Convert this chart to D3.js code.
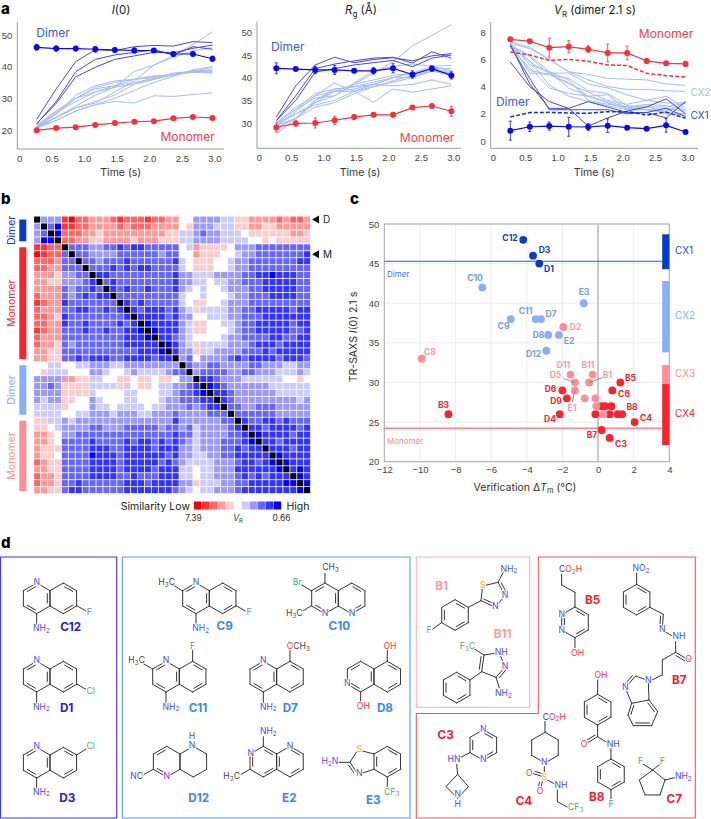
<!DOCTYPE html>
<html>
<head>
<meta charset="utf-8">
<script src="https://cdn.jsdelivr.net/npm/d3@7"></script>
<style>
  body { margin: 0; background: #fff; }
  svg { display: block; font-family: Inter, "Open Sans", sans-serif; }
  .tick text { fill: #444; font-size: 9.5px; }
  .axline { stroke: #9a9a9a; stroke-width: 1; }
</style>
</head>
<body>
<svg id="fig" width="711" height="819"></svg>
<script>
// ---- data, panel a
const times = [0.27, 0.57, 0.87, 1.17, 1.47, 1.77, 2.07, 2.37, 2.67, 2.97];

const i0Dimer = [46.1, 45.7, 45.7, 45.5, 45.3, 45.1, 45.1, 44.0, 44.0, 42.5];
const i0DimerErr = [0.9, 0.8, 0.7, 0.9, 0.6, 0.8, 0.5, 0.7, 0.5, 0.8];
const i0Monomer = [19.9, 20.6, 20.9, 21.6, 22.2, 22.6, 22.8, 23.7, 24.1, 23.8];
const i0MonomerErr = [0.3, 0.3, 0.3, 0.3, 0.3, 0.3, 0.3, 0.4, 0.4, 0.4];
const i0Cx1 = [
  [23.4, 33, 41.6, 45.3, 45.1, 46.3, 46.7, 46.5, 47.9, 47.6],
  [21.9, 29, 38.4, 42.3, 43.7, 44.5, 45.3, 43.7, 46.3, 45.5],
  [22.1, 28.4, 36.8, 39.8, 42.3, 43.4, 44.5, 44.4, 45.8, 46.8]
];
const i0Cx2 = [
  [21.5, 25, 30, 33.5, 35, 36, 37, 37.3, 38.8, 38],
  [21, 24, 27, 28.5, 32, 35.5, 40.5, 43.5, 47, 51],
  [20.5, 23, 26, 28, 29, 28.5, 30.8, 30.6, 31.2, 31.7],
  [21, 25, 31, 34, 35.5, 36, 37, 37.5, 38.5, 39.8],
  [21.5, 26, 30, 33, 34, 36, 36.5, 37.5, 38.5, 38.5],
  [20.5, 24, 27, 29, 31, 34.5, 36, 37.5, 38.2, 38],
  [21, 23, 26, 28, 30, 32.5, 35, 37, 39, 40],
  [21, 24, 27.5, 31, 33.5, 38.5, 40.5, 43, 45, 46],
  [21.5, 25.5, 29, 32, 34, 35, 36.3, 38, 38.5, 39],
  [21, 26, 30, 32, 33.5, 34.5, 36, 37.5, 38.5, 39]
];

const rgDimer = [42.06, 41.9, 41.7, 41.7, 41.5, 41.5, 42.06, 40.7, 42, 40.5];
const rgDimerErr = [1.2, 0.3, 0.8, 1.0, 0.4, 0.7, 1.0, 0.8, 0.6, 0.8];
const rgMonomer = [29, 29.9, 30, 30.6, 31.3, 31.8, 31.8, 33.4, 33.75, 32.6];
const rgMonomerErr = [1.0, 0.6, 1.1, 0.9, 0.5, 0.4, 0.5, 0.4, 0.4, 1.1];
const rgCx1 = [
  [31.3, 38.2, 42.8, 44.5, 43.3, 44, 44.4, 43.7, 44.8, 45.3],
  [30.5, 36, 42, 43, 43.7, 44.3, 44.5, 43.2, 45.7, 44.3],
  [30.5, 35, 41.2, 42, 42.8, 43.3, 43.8, 42.4, 44.3, 45]
];
const rgCx2 = [
  [27.5, 31, 35, 37, 38.5, 41, 43.5, 47, 49.3, 51.7],
  [29.5, 32.5, 36, 38.8, 37, 34.6, 37.5, 36.8, 37.5, 38.2],
  [30, 33, 36.5, 37.5, 38, 38.5, 38.2, 38.5, 39.5, 38.5],
  [29, 31, 35, 37.5, 38, 39, 40, 41, 42.5, 41.5],
  [30, 33, 35.5, 36, 38.5, 39.5, 40.5, 41, 42, 42],
  [29.5, 32, 34, 35, 37, 38.5, 40, 41, 42, 41],
  [29.5, 31, 34.5, 36, 38.8, 41.5, 42.5, 43, 42.5, 42.7],
  [30, 32, 34.5, 37, 37.5, 38.5, 40, 40, 41.5, 40.5],
  [30, 33.5, 36, 37, 37, 38, 39, 40, 41.5, 41],
  [29, 31, 33.5, 34.5, 36.5, 38, 39.3, 40.5, 41.5, 41.5]
];

const vrDimer = [0.76, 1.05, 1.1, 1.05, 1.03, 1.13, 0.98, 0.91, 1.15, 0.66];
const vrDimerErr = [0.7, 0.35, 0.3, 0.7, 0.25, 0.5, 0.1, 0.1, 0.5, 0.05];
const vrMonomer = [7.48, 7.34, 6.87, 6.94, 6.75, 6.48, 6.48, 5.89, 5.72, 5.67];
const vrMonomerErr = [0.1, 0.1, 0.7, 0.45, 0.25, 0.65, 0.5, 0.15, 0.1, 0.2];
const vrDashRed = [6.55, 6.33, 5.94, 6.01, 5.87, 5.6, 5.55, 4.98, 4.81, 4.71];
const vrDashBlue = [1.77, 2.09, 2.11, 2.06, 2.04, 2.16, 2.16, 1.91, 2.13, 1.67];
const vrCx1 = [
  [5.8, 4.0, 2.9, 2.4, 2.9, 2.5, 2.1, 2.1, 1.7, 2.9],
  [7.1, 4.2, 2.4, 2.4, 1.1, 1.7, 2.2, 2.5, 3.1, 2.0],
  [7.0, 4.6, 2.3, 2.3, 2.3, 2.3, 2.0, 2.1, 2.4, 1.8]
];
const vrCx2 = [
  [7.2, 6.8, 6.0, 5.1, 4.9, 4.6, 4.55, 4.5, 4.2, 4.1],
  [7.3, 6.9, 6.0, 5.1, 4.5, 4.0, 3.8, 3.8, 3.7, 3.65],
  [7.0, 5.8, 5.0, 5.0, 4.2, 3.9, 3.4, 3.0, 2.8, 2.8],
  [7.1, 6.2, 4.9, 4.6, 3.7, 3.5, 2.6, 2.5, 2.5, 2.8],
  [7.0, 5.2, 4.9, 4.2, 3.6, 3.0, 2.7, 3.0, 3.3, 2.4],
  [7.2, 5.6, 5.1, 3.9, 3.3, 2.9, 2.5, 2.3, 2.4, 2.2],
  [6.8, 5.4, 3.9, 3.5, 3.3, 2.8, 2.4, 2.3, 2.2, 2.8],
  [7.1, 5.9, 4.1, 3.3, 2.9, 2.6, 2.3, 2.3, 2.1, 2.0],
  [7.2, 5.0, 4.9, 4.3, 3.3, 3.4, 2.3, 2.6, 2.0, 1.9],
  [7.0, 6.3, 5.1, 4.5, 3.0, 2.7, 2.5, 2.7, 2.6, 2.3]
];

// ---- data, panel b: upper triangle, one class per cell, 0 = low similarity, a = high
const heatRows = [
  "777" + "10223332122212233" + "55777766" + "44333323223",
  "8a" + "11223333232223333" + "54777666" + "44334433333",
  "a" + "22233433333333344" + "66787766" + "65444444334",
  "22334433334333444" + "66777766" + "66554544444",
  "888778898998888" + "8" + "56344445" + "77788888888",
  "88777788888878" + "8" + "55344455" + "67788888889",
  "8878889888888" + "9" + "65444556" + "77888888899",
  "888989899888" + "8" + "65444556" + "77888888888",
  "99888888888" + "9" + "77666777" + "78899a99988",
  "8988888888" + "9" + "77665667" + "78889999988",
  "989889888" + "9" + "76565567" + "77889999988",
  "88888888" + "8" + "65565556" + "77888999988",
  "9898888" + "8" + "65445567" + "77888888888",
  "989998" + "9" + "76466667" + "78899999899",
  "99998" + "9" + "77556667" + "78889999999",
  "a999" + "9" + "76445566" + "78899999899",
  "a99" + "9" + "76445556" + "78899999889",
  "99" + "8" + "76555567" + "78888998899",
  "a" + "9" + "76466667" + "77899989999",
  "9" + "77466777" + "78889899999",
  "78577778" + "98999989998",
  "8" + "778877" + "77887776677",
  "788887" + "78877766676",
  "99877" + "76666665545",
  "a987" + "77777666666",
  "998" + "77777766666",
  "98" + "77777777767",
  "8" + "87788877777",
  "88888877777",
  "9889989888",
  "998999989",
  "a9999899",
  "9989999",
  "999899",
  "a9999",
  "a999",
  "9a9",
  "a9",
  "a"
];
const heatColors = ["#ff0000", "#ff3333", "#ff6666", "#ff9999", "#ffcccc", "#ffffff", "#ccccff", "#9999ff", "#6666ff", "#3333ff", "#0000ff"];
const heatGroups = [
  { name: "Dimer", from: 0, to: 4, color: "#0a3cc8" },
  { name: "Monomer", from: 4, to: 21, color: "#f8232c" },
  { name: "Dimer", from: 21, to: 29, color: "#8aaeff" },
  { name: "Monomer", from: 29, to: 40, color: "#ff8f95" }
];

// ---- data, panel c
const cx1Color = "#0a3cc8", cx2Color = "#8aaeff", cx3Color = "#ff8f95", cx4Color = "#f8232c";
const scatterCx1 = [["C12", -4.2, 48], ["D3", -3.65, 46], ["D1", -3.3, 45]];
const scatterCx2 = [["C10", -6.5, 42], ["E3", -0.8, 40], ["C11", -3.5, 38], ["D7", -3.2, 38], ["C9", -4.9, 38], ["D8", -2.8, 36], ["E2", -2.2, 36], ["D12", -2.9, 34]];
const scatterCx3 = [["C8", -9.9, 33], ["D2", -1.95, 37], ["D11", -1.55, 31], ["B11", -0.3, 31], ["D5", -1.3, 30], ["B1", -0.5, 30], ["E1", -1.3, 29], ["", -0.75, 28], ["", -0.15, 28], ["", -0.1, 27], ["", 0.3, 26]];
const scatterCx4 = [["B3", -8.4, 26], ["B5", 1.25, 30], ["C6", 0.8, 29], ["D6", -2, 29], ["D9", -1.75, 28], ["D4", -2.15, 26], ["", 0.2, 27], ["", 0.4, 27], ["", 0.75, 27], ["", -0.15, 26], ["", 0.65, 26], ["", 1.1, 26], ["B8", 1.35, 26], ["C4", 2.05, 25], ["B7", 0.2, 24], ["C3", 0.65, 23]];
const cxBars = [["CX1", 44.3, 48.7, cx1Color], ["CX2", 33.8, 42.8, cx2Color], ["CX3", 29.8, 32.2, cx3Color], ["CX4", 22.1, 29.8, cx4Color]];
const dimerLevel = 45.3, monomerLevel = 24.2;

const svg = d3.select("#fig");
const blue = "#0a0aee", red = "#f8303a";

function panelLetter(t, x, y) {
  svg.append("text").attr("x", x).attr("y", y).attr("font-size", 15).attr("font-weight", 800).text(t);
}

// one time-course panel of row a
function timePanel(p) {
  const x = d3.scaleLinear().domain([0, 3]).range(p.xr);
  const y = d3.scaleLinear().domain(p.yd).range(p.yr);
  const g = svg.append("g");
  const line = d3.line().x((d, i) => x(times[i])).y(d => y(d));

  g.append("g").attr("transform", `translate(0,${p.bottom})`)
    .call(d3.axisBottom(x).tickValues([0, 0.5, 1, 1.5, 2, 2.5, 3]).tickSize(0).tickPadding(6)
      .tickFormat(d => d === 0 ? "0" : d.toFixed(1)))
    .call(s => s.select(".domain").remove());
  g.append("g").attr("transform", `translate(${p.left},0)`)
    .call(d3.axisLeft(y).tickValues(p.yt).tickSize(0).tickPadding(5))
    .call(s => s.select(".domain").remove());
  g.append("line").attr("class", "axline").attr("x1", p.left).attr("x2", p.left).attr("y1", p.top).attr("y2", p.bottom);
  g.append("line").attr("class", "axline").attr("x1", p.left).attr("x2", p.right).attr("y1", p.bottom).attr("y2", p.bottom);

  g.selectAll(".cx2").data(p.cx2).enter().append("path").attr("d", line)
    .attr("fill", "none").attr("stroke", "#a3bdf7").attr("stroke-width", 1);
  g.selectAll(".cx1").data(p.cx1).enter().append("path").attr("d", line)
    .attr("fill", "none").attr("stroke", "#4646e6").attr("stroke-width", 1);

  (p.dashes || []).forEach(d => {
    g.append("path").attr("d", line(d[0])).attr("fill", "none").attr("stroke", d[1])
      .attr("stroke-width", 1.5).attr("stroke-dasharray", "4,2");
  });

  [[p.dimer, p.dimerErr, blue], [p.mono, p.monoErr, red]].forEach(s => {
    const [vals, errs, col] = s;
    g.append("path").attr("d", line(vals)).attr("fill", "none").attr("stroke", col).attr("stroke-width", 1.2);
    vals.forEach((v, i) => {
      const cx = x(times[i]), hi = y(v + errs[i]), lo = y(v - errs[i]);
      g.append("path").attr("d", `M${cx},${hi}V${lo}M${cx - 1.5},${hi}H${cx + 1.5}M${cx - 1.5},${lo}H${cx + 1.5}`)
        .attr("stroke", col).attr("stroke-width", 0.8).attr("fill", "none");
      g.append("circle").attr("cx", cx).attr("cy", y(v)).attr("r", 3).attr("fill", col);
    });
  });

  g.append("text").attr("x", (p.xr[0] + p.xr[1]) / 2 + 4).attr("y", 176).attr("text-anchor", "middle")
    .attr("font-size", 10.5).attr("fill", "#333").text("Time (s)");
  p.labels.forEach(l => {
    g.append("text").attr("x", l[1]).attr("y", l[2]).attr("text-anchor", l[4] || "middle")
      .attr("dominant-baseline", "middle").attr("font-size", l[5] || 12).attr("fill", l[3]).text(l[0]);
  });
}

function drawPanelA() {
  panelLetter("a", 1, 14);
  timePanel({
    left: 17.3, right: 224, top: 22, bottom: 149, xr: [19.1, 214.4], yd: [20, 50], yr: [130, 35], yt: [20, 30, 40, 50],
    cx1: i0Cx1, cx2: i0Cx2, dimer: i0Dimer, dimerErr: i0DimerErr, mono: i0Monomer, monoErr: i0MonomerErr,
    labels: [["Dimer", 53, 34, "#3a5ae8"], ["Monomer", 187.7, 137.5, "#f8404a"]]
  });
  timePanel({
    left: 257, right: 461, top: 21.7, bottom: 148.3, xr: [258.8, 453.3], yd: [30, 50], yr: [123, 32.3], yt: [30, 35, 40, 45, 50],
    cx1: rgCx1, cx2: rgCx2, dimer: rgDimer, dimerErr: rgDimerErr, mono: rgMonomer, monoErr: rgMonomerErr,
    labels: [["Dimer", 287.7, 47.7, "#3a5ae8"], ["Monomer", 427, 139, "#f8404a"]]
  });
  timePanel({
    left: 490.7, right: 698, top: 22, bottom: 148.3, xr: [492.8, 687.5], yd: [0, 8], yr: [141, 32.3], yt: [0, 2, 4, 6, 8],
    cx1: vrCx1, cx2: vrCx2, dimer: vrDimer, dimerErr: vrDimerErr, mono: vrMonomer, monoErr: vrMonomerErr,
    dashes: [[vrDashRed, red], [vrDashBlue, "#0f2fd8"]],
    labels: [["Monomer", 666, 35, "#f8404a"], ["Dimer", 512.7, 103, "#3a5ae8"],
      ["CX2", 690.5, 93, "#a3bdf7", "start", 10], ["CX1", 690.5, 116, "#2b4cdd", "start", 10]]
  });

  const title = (x, parts) => {
    const t = svg.append("text").attr("x", x).attr("y", 14).attr("text-anchor", "middle").attr("font-size", 11.5).attr("fill", "#222");
    parts.forEach(q => {
      const s = t.append("tspan").text(q[0]);
      if (q[1] === "i") s.attr("font-style", "italic");
      if (q[1] === "sub") s.attr("font-size", 8).attr("dy", 2.5);
      if (q[2]) s.attr("dy", q[2]);
    });
  };
  title(121, [["I", "i"], ["(0)"]]);
  title(361, [["R", "i"], ["g", "sub"], [" (Å)", "", -2.5]]);
  title(595, [["V", "i"], ["R", "sub"], [" (dimer 2.1 s)", "", -2.5]]);
}

function drawPanelB() {
  panelLetter("b", 1, 204);
  const n = heatRows.length + 1;
  const x = d3.scaleBand().domain(d3.range(n)).range([33.3, 311]).padding(0.12);
  const y = d3.scaleBand().domain(d3.range(n)).range([215.7, 494]).padding(0.12);
  const cells = [];
  heatRows.forEach((row, i) => {
    row.split("").forEach((c, k) => {
      const j = i + 1 + k, lev = parseInt(c, 11);
      cells.push({ i, j, lev }, { i: j, j: i, lev });
    });
  });
  d3.range(n).forEach(i => cells.push({ i, j: i, lev: -1 }));
  svg.append("g").selectAll("rect").data(cells).enter().append("rect")
    .attr("x", d => x(d.j)).attr("y", d => y(d.i))
    .attr("width", x.bandwidth()).attr("height", y.bandwidth())
    .attr("fill", d => d.lev < 0 ? "#000" : heatColors[d.lev]);

  const step = y.step();
  const bars = svg.append("g");
  heatGroups.forEach(d => {
    const y0 = y(d.from) + 3, y1 = y(d.to - 1) + step - 3;
    bars.append("rect").attr("x", 19.3).attr("width", 7).attr("y", y0).attr("height", y1 - y0).attr("fill", d.color);
    bars.append("text").attr("transform", `translate(14.5,${(y0 + y1) / 2}) rotate(-90)`)
      .attr("text-anchor", "middle").attr("font-size", 10.5).attr("fill", d.color).text(d.name);
  });

  [["D", 0], ["M", 5]].forEach(m => {
    const cy = y(m[1]) + y.bandwidth() / 2;
    svg.append("path").attr("d", d3.line()([[312, cy], [319, cy - 4], [319, cy + 4]]) + "Z").attr("fill", "#111");
    svg.append("text").attr("x", 323).attr("y", cy + 3.5).attr("font-size", 10).attr("fill", "#222").text(m[0]);
  });

  // legend
  const lx = d3.scaleBand().domain(d3.range(heatColors.length)).range([193.5, 281.5]).padding(0.05);
  svg.append("g").selectAll("rect").data(heatColors).enter().append("rect")
    .attr("x", (d, i) => lx(i)).attr("y", 501.5).attr("width", lx.bandwidth()).attr("height", 8).attr("fill", d => d);
  svg.append("text").attr("x", 190).attr("y", 509.5).attr("text-anchor", "end").attr("font-size", 10.5).attr("fill", "#222").text("Similarity Low");
  svg.append("text").attr("x", 286.5).attr("y", 509.5).attr("font-size", 10.5).attr("fill", "#222").text("High");
  svg.append("text").attr("x", 193.5).attr("y", 521).attr("text-anchor", "middle").attr("font-size", 8.5).attr("fill", "#333").text("7.39");
  svg.append("text").attr("x", 281.5).attr("y", 521).attr("text-anchor", "middle").attr("font-size", 8.5).attr("fill", "#333").text("0.66");
  const vr = svg.append("text").attr("x", 238).attr("y", 521).attr("text-anchor", "middle").attr("font-size", 8.5).attr("fill", "#333");
  vr.append("tspan").attr("font-style", "italic").text("V");
  vr.append("tspan").attr("font-size", 6).attr("dy", 2).text("R");
}

function drawPanelC() {
  panelLetter("c", 350, 204);
  const x = d3.scaleLinear().domain([-12, 4]).range([384.3, 669.3]);
  const y = d3.scaleLinear().domain([20, 50]).range([461.7, 224]);
  const g = svg.append("g");
  const xt = d3.range(-12, 5, 2), yt = d3.range(20, 51, 5);

  g.selectAll(".gx").data(xt).enter().append("line").attr("x1", d => x(d)).attr("x2", d => x(d))
    .attr("y1", y(20)).attr("y2", y(50)).attr("stroke", "#e9e9e9").attr("stroke-width", 0.8);
  g.selectAll(".gy").data(yt).enter().append("line").attr("x1", x(-12)).attr("x2", x(4))
    .attr("y1", d => y(d)).attr("y2", d => y(d)).attr("stroke", "#e9e9e9").attr("stroke-width", 0.8);

  g.append("g").attr("transform", `translate(0,${y(20)})`)
    .call(d3.axisBottom(x).tickValues(xt).tickSize(0).tickPadding(5).tickFormat(d => String(d).replace("-", "\u2212")))
    .call(s => s.select(".domain").remove());
  g.append("g").attr("transform", `translate(${x(-12)},0)`)
    .call(d3.axisLeft(y).tickValues(yt).tickSize(0).tickPadding(5))
    .call(s => s.select(".domain").remove());
  g.append("rect").attr("x", x(-12)).attr("y", y(50)).attr("width", x(4) - x(-12)).attr("height", y(20) - y(50))
    .attr("fill", "none").attr("stroke", "#aaa").attr("stroke-width", 1);

  g.append("line").attr("x1", x(0)).attr("x2", x(0)).attr("y1", y(20)).attr("y2", y(50)).attr("stroke", "#bdbdbd").attr("stroke-width", 1.6);
  g.append("line").attr("x1", x(-12)).attr("x2", x(3.6)).attr("y1", y(dimerLevel)).attr("y2", y(dimerLevel)).attr("stroke", "#2a55e0").attr("stroke-width", 1);
  g.append("line").attr("x1", x(-12)).attr("x2", x(3.6)).attr("y1", y(monomerLevel)).attr("y2", y(monomerLevel)).attr("stroke", "#f58a8f").attr("stroke-width", 1.6);
  g.append("text").attr("x", 387).attr("y", 277).attr("font-size", 8).attr("fill", "#4a6fe0").text("Dimer");
  g.append("text").attr("x", 387).attr("y", 443.5).attr("font-size", 8).attr("fill", "#f58a8f").text("Monomer");

  [[scatterCx4, cx4Color], [scatterCx3, cx3Color], [scatterCx2, cx2Color], [scatterCx1, cx1Color]].forEach(s => {
    g.append("g").selectAll("circle").data(s[0]).enter().append("circle")
      .attr("cx", d => x(d[1])).attr("cy", d => y(d[2])).attr("r", 3.9).attr("fill", s[1]);
  });
  // leader lines D5, B1, E1 on top of the points
  const lead = [["D5", -1.3, 30, -1.95, 30.5], ["B1", -0.5, 30, 0.25, 30.6], ["E1", -1.3, 29, -1.45, 27.5]];
  g.selectAll(".lead").data(lead).enter().append("line")
    .attr("x1", d => x(d[1])).attr("y1", d => y(d[2])).attr("x2", d => x(d[3])).attr("y2", d => y(d[4]))
    .attr("stroke", "#666").attr("stroke-width", 0.7);

  // label anchors read in pixels, named per compound
  const labelAt = {
    C12: [510, 239], D3: [544.5, 250.5], D1: [549, 270], C10: [475, 278.5], E3: [584, 293], C11: [525.5, 312], D7: [551, 315],
    C9: [503.5, 327], D2: [575.5, 327.5], D8: [538.5, 336], E2: [569, 342], D12: [533.5, 354.5], C8: [430, 352.5],
    D11: [563.5, 366], B11: [588, 365.5], B1: [607.5, 375.5], D5: [555.5, 376], B5: [630.5, 378.5], D6: [550.5, 389.5],
    C6: [624, 394.5], D9: [556, 402], E1: [572, 409], B8: [632, 408], B3: [443.5, 405.5], C4: [646, 419], D4: [550, 419.5],
    B7: [592, 436], C3: [621, 445]
  };
  [[scatterCx1, cx1Color], [scatterCx2, "#6f9bfa"], [scatterCx3, "#ff9aa0"], [scatterCx4, cx4Color]].forEach(s => {
    s[0].filter(d => d[0]).forEach(d => {
      g.append("text").attr("x", labelAt[d[0]][0]).attr("y", labelAt[d[0]][1]).attr("text-anchor", "middle")
        .attr("dominant-baseline", "middle").attr("font-size", 8.5).attr("font-weight", 700).attr("fill", s[1]).text(d[0]);
    });
  });

  cxBars.forEach(b => {
    g.append("rect").attr("x", x(3.6)).attr("width", x(4) - x(3.6)).attr("y", y(b[2])).attr("height", y(b[1]) - y(b[2])).attr("fill", b[3]);
    g.append("text").attr("x", 675).attr("y", (y(b[1]) + y(b[2])) / 2).attr("dominant-baseline", "middle")
      .attr("font-size", 10).attr("fill", b[0] === "CX1" ? "#2b4cdd" : b[3]).text(b[0]);
  });

  const xl = g.append("text").attr("x", 525).attr("y", 491).attr("text-anchor", "middle").attr("font-size", 10.5).attr("fill", "#333");
  xl.append("tspan").text("Verification Δ");
  xl.append("tspan").attr("font-style", "italic").text("T");
  xl.append("tspan").attr("font-size", 7.5).attr("dy", 2).text("m");
  xl.append("tspan").attr("dy", -2).text(" (°C)");
  const yl = g.append("text").attr("transform", "translate(357,337) rotate(-90)").attr("text-anchor", "middle").attr("font-size", 10.5).attr("fill", "#333");
  yl.append("tspan").text("TR-SAXS ");
  yl.append("tspan").attr("font-style", "italic").text("I");
  yl.append("tspan").text("(0) 2.1 s");
}

// ---- panel d, structure sketches, coordinates in crop pixels x3
const atomN = "#4a4af5", atomO = "#ff3333", atomX = "#3fae78", atomS = "#f5a623", atomC = "#444";

function molecule(host, m) {
  const bond = (a, b, c, d) => host.append("line").attr("x1", a).attr("y1", b).attr("x2", c).attr("y2", d)
    .attr("stroke", "#333").attr("stroke-width", 3).attr("stroke-linecap", "round");
  (m.rings || []).forEach(r => {
    const v = d3.range(6).map(i => {
      const a = (-90 + 60 * i) * Math.PI / 180;
      return [r[0] + 46 * Math.cos(a), r[1] + 46 * Math.sin(a)];
    });
    v.forEach((p, i) => {
      const q = v[(i + 1) % 6];
      bond(p[0], p[1], q[0], q[1]);
      if ((r[2] || []).includes(i)) {
        const ins = z => [r[0] + (z[0] - r[0]) * 0.8, r[1] + (z[1] - r[1]) * 0.8];
        const a = ins(p), b = ins(q);
        bond(a[0] + (b[0] - a[0]) * 0.12, a[1] + (b[1] - a[1]) * 0.12, a[0] + (b[0] - a[0]) * 0.88, a[1] + (b[1] - a[1]) * 0.88);
      }
    });
  });
  (m.bonds || []).forEach(b => bond(b[0], b[1], b[2], b[3]));
  // double bonds outside rings, offset to one side and trimmed
  (m.doubles || []).forEach(b => {
    const dx = b[2] - b[0], dy = b[3] - b[1], l = Math.hypot(dx, dy), o = (b[4] || 1) * 8;
    bond(b[0], b[1], b[2], b[3]);
    bond(b[0] + dx * 0.12 - dy / l * o, b[1] + dy * 0.12 + dx / l * o, b[2] - dx * 0.12 - dy / l * o, b[3] - dy * 0.12 + dx / l * o);
  });
  (m.atoms || []).forEach(a => {
    const t = host.append("text").attr("x", a[0]).attr("y", a[1]).attr("text-anchor", a[4] || "middle").attr("dominant-baseline", "middle")
      .attr("font-size", 26).attr("stroke", "#fff").attr("stroke-width", 6).attr("paint-order", "stroke");
    const cols = a[3].split("|");
    a[2].split("|").forEach((seg, i) => {
      seg.split(/(\d)/).filter(s => s).forEach(ch => {
        const sp = t.append("tspan").attr("fill", cols[i] || cols[0]).text(ch);
        if (/\d/.test(ch)) sp.attr("font-size", 19).attr("dy", 5);
        else if (t.attr("data-sub")) sp.attr("dy", -5);
        t.attr("data-sub", /\d/.test(ch) ? 1 : null);
      });
    });
  });
  if (m.name) {
    host.append("text").attr("x", m.name[1]).attr("y", m.name[2]).attr("text-anchor", "middle").attr("dominant-baseline", "middle")
      .attr("font-size", 35).attr("font-weight", 700).attr("fill", m.color).text(m.name[0]);
  }
}

const quinL = [5, 3, 1], quinR = [0, 2];
const nameCx1 = "#2222e8", nameCx2 = "#3a86ff", nameCx3 = "#ff9aa0", nameCx4 = "#f5202a";

const molsLeft = [
  { color: nameCx1, name: ["C12", 212, 277], rings: [[110, 190, quinL], [190, 190, quinR]], bonds: [[230, 212, 258, 228], [110, 236, 110, 270]],
    atoms: [[110, 144, "N", atomN], [268, 235, "F", atomX], [124, 283, "NH2", atomN]] },
  { color: nameCx1, name: ["D1", 200, 520], rings: [[110, 425, quinL], [190, 425, quinR]], bonds: [[230, 447, 258, 463], [110, 471, 110, 505]],
    atoms: [[110, 379, "N", atomN], [272, 470, "Cl", atomX], [124, 518, "NH2", atomN]] },
  { color: nameCx1, name: ["D3", 202, 793], rings: [[110, 683, quinL], [190, 683, quinR]], bonds: [[230, 660, 258, 642], [110, 729, 110, 760]],
    atoms: [[110, 636, "N", atomN], [272, 636, "Cl", atomX], [124, 773, "NH2", atomN]] },
  { color: nameCx2, name: ["C9", 674, 275], rings: [[588, 190, quinL], [668, 190, quinR]], bonds: [[548, 168, 520, 150], [708, 212, 736, 228], [588, 236, 588, 270]],
    atoms: [[588, 144, "N", atomN], [500, 144, "H3C", atomC], [747, 235, "F", atomX], [602, 283, "NH2", atomN]] },
  { color: nameCx2, name: ["C10", 1018, 275], rings: [[975, 190, quinL], [1055, 190, quinR]], bonds: [[975, 144, 975, 115], [935, 168, 905, 150], [935, 212, 905, 230]],
    atoms: [[992, 100, "CH3", atomC], [892, 145, "Br", atomX], [883, 237, "H3C", atomC], [975, 237, "N", atomN], [1056, 237, "N", atomN]] },
  { color: nameCx2, name: ["C11", 594, 520], rings: [[498, 425, quinL], [578, 425, quinR]], bonds: [[458, 402, 430, 386], [578, 379, 578, 345], [498, 471, 498, 505]],
    atoms: [[498, 379, "N", atomN], [410, 379, "H3C", atomC], [578, 335, "F", atomX], [513, 518, "NH2", atomN]] },
  { color: nameCx2, name: ["D7", 871, 520], rings: [[790, 425, quinL], [870, 425, quinR]], bonds: [[870, 379, 870, 345], [790, 471, 790, 505]],
    atoms: [[790, 379, "N", atomN], [860, 336, "O|CH3", atomO + "|" + atomC, "start"], [805, 518, "NH2", atomN]] },
  { color: nameCx2, name: ["D8", 1155, 520], rings: [[1082, 425, quinL], [1162, 425, quinR]], bonds: [[1082, 471, 1082, 505], [1162, 379, 1162, 345]],
    atoms: [[1042, 448, "N", atomN], [1090, 516, "OH", atomO], [1170, 335, "OH", atomO]] },
  { color: nameCx2, name: ["D12", 596, 793], rings: [[500, 680, [5, 3]], [580, 680, []]], bonds: [[460, 703, 425, 722]],
    atoms: [[500, 727, "N", atomN], [576, 605, "H", atomN], [576, 634, "N", atomN], [410, 727, "N|C", atomN + "|" + atomC]] },
  { color: nameCx2, name: ["E2", 868, 793], rings: [[790, 680, [0, 4, 2]], [870, 680, [0, 2, 4]]], bonds: [[790, 634, 790, 605], [750, 703, 720, 720]],
    atoms: [[752, 657, "N", atomN], [870, 636, "N", atomN], [805, 592, "NH2", atomN], [695, 727, "H3C", atomC]] },
  { color: nameCx2, name: ["E3", 1120, 797], rings: [[1162, 680, [0, 2, 4]]],
    bonds: [[1122, 657, 1087, 648], [1070, 650, 1050, 682], [1087, 714, 1122, 703], [1010, 682, 1050, 682], [1162, 726, 1162, 762]],
    doubles: [[1050, 682, 1070, 712, 1]],
    atoms: [[1078, 645, "S", atomS], [1078, 717, "N", atomN], [990, 682, "H2N", atomN], [1175, 773, "CF3", atomX]] }
];

const molsRight = [
  { color: nameCx3, name: ["B1", 95, 155], rings: [[135, 240, [0, 2, 4]]],
    bonds: [[264, 142, 218, 153], [218, 153, 213, 197], [285, 182, 256, 217], [264, 142, 280, 112], [95, 263, 68, 282], [175, 217, 213, 197]],
    doubles: [[264, 142, 285, 182, -1], [213, 197, 256, 217, -1]],
    atoms: [[218, 153, "S", atomS], [297, 104, "NH2", atomN], [285, 182, "N", atomN], [256, 217, "N", atomN], [57, 288, "F", atomX]] },
  { color: nameCx3, name: ["B11", 278, 300], rings: [[140, 458, [0, 2, 4]]],
    bonds: [[222, 360, 268, 353], [268, 353, 285, 396], [258, 427, 215, 410], [222, 360, 190, 340], [258, 427, 270, 465], [180, 435, 215, 410]],
    doubles: [[222, 360, 215, 410, 1], [285, 396, 258, 427, -1]],
    atoms: [[172, 337, "F3C", atomX], [274, 353, "NH", atomN], [285, 396, "N", atomN], [280, 478, "NH2", atomN]] },
  { color: nameCx4, name: ["B5", 548, 196], rings: [[495, 262, [0, 2, 4]]],
    bonds: [[455, 118, 455, 150], [455, 150, 495, 172], [495, 172, 495, 216], [495, 308, 495, 345]],
    atoms: [[447, 105, "C|O2H", atomC + "|" + atomO, "start"], [455, 240, "N", atomN], [455, 287, "N", atomN], [503, 356, "OH", atomO]] },
  { color: nameCx4, name: ["B7", 808, 436], rings: [[680, 194, [0, 2, 4]]],
    bonds: [[680, 115, 680, 148], [720, 217, 760, 238], [757, 285, 790, 305], [797, 320, 797, 352], [797, 352, 757, 375], [757, 375, 757, 420], [757, 420, 722, 437],
      [715, 437, 677, 423], [646, 458, 665, 505], [715, 437, 717, 495], [665, 505, 717, 495], [743, 530, 725, 572], [670, 572, 654, 540]],
    doubles: [[760, 238, 757, 285, 1], [797, 352, 836, 375, 1], [677, 423, 646, 458, 1], [717, 495, 743, 530, 1], [725, 572, 670, 572, 1], [654, 540, 665, 505, 1]],
    atoms: [[693, 103, "NO2", atomN], [757, 285, "N", atomN], [807, 306, "NH", atomN], [836, 375, "O", atomO], [715, 437, "N", atomN], [646, 458, "N", atomN]] },
  { color: nameCx4, name: ["B8", 560, 790], rings: [[563, 524, [0, 2, 4]], [603, 718, [0, 2, 4]]],
    bonds: [[563, 435, 563, 478], [563, 570, 563, 605], [563, 605, 590, 622], [603, 640, 603, 672], [603, 764, 603, 798]],
    doubles: [[563, 605, 530, 625, 1]],
    atoms: [[573, 424, "OH", atomO], [522, 630, "O", atomO], [610, 630, "NH", atomN], [603, 810, "F", atomX]] },
  { color: nameCx4, name: ["C3", 107, 603], rings: [[220, 630, [0, 2, 4]]],
    bonds: [[180, 653, 150, 668], [140, 688, 143, 718], [143, 718, 175, 755], [175, 755, 143, 790], [143, 790, 108, 755], [108, 755, 143, 718]],
    atoms: [[220, 584, "N", atomN], [220, 676, "N", atomN], [132, 675, "HN", atomN], [143, 781, "N", atomN], [143, 810, "H", atomN]] },
  { color: nameCx4, name: ["C4", 342, 800], rings: [[405, 638, []]],
    bonds: [[405, 558, 405, 592], [403, 695, 403, 718], [412, 735, 436, 748], [442, 765, 442, 800], [442, 800, 480, 820]],
    doubles: [[395, 724, 370, 716, 1], [397, 740, 392, 762, 1]],
    atoms: [[398, 548, "C|O2H", atomC + "|" + atomO, "start"], [403, 684, "N", atomN], [403, 728, "S", atomS], [358, 716, "O", atomO], [390, 772, "O", atomO], [453, 752, "NH", atomN], [497, 820, "CF3", atomX]] },
  { color: nameCx4, name: ["C7", 793, 795],
    bonds: [[728, 705, 765, 735], [765, 735, 750, 780], [750, 780, 705, 780], [705, 780, 688, 735], [688, 735, 728, 705], [728, 705, 700, 688], [728, 705, 750, 688], [765, 735, 795, 728]],
    atoms: [[692, 680, "F", atomX], [757, 680, "F", atomX], [820, 726, "NH2", atomN]] }
];

function drawPanelD() {
  panelLetter("d", 1, 548);
  const box = (d, col) => svg.append("path").attr("d", d).attr("fill", "none").attr("stroke", col).attr("stroke-width", 1.1);
  box("M0.5,557H116.7V818H0.5Z", "#3a3ae8");
  box("M122.3,557H410V818H122.3Z", "#5a9bff");
  box("M416.3,557H529.7V707.3H416.3Z", "#ffb0b5");
  box("M538.3,557H695.3V818H416.3V713.5H538.3Z", "#f5555c");

  const left = svg.append("g").attr("transform", "translate(0,535) scale(0.3333)");
  molsLeft.forEach(m => molecule(left, m));
  const right = svg.append("g").attr("transform", "translate(410,535) scale(0.3333)");
  molsRight.forEach(m => molecule(right, m));
}

drawPanelA();
drawPanelB();
drawPanelC();
drawPanelD();
</script>
</body>
</html>
